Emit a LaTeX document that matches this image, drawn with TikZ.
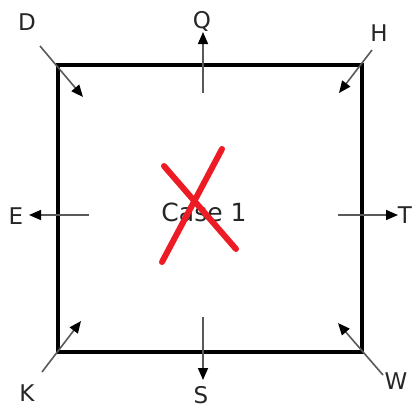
\documentclass[tikz,border=0pt]{standalone}
\usepackage{fontspec}
\setmainfont{DejaVu Sans}
\usetikzlibrary{arrows.meta}
\begin{document}
\begin{tikzpicture}[x=1pt,y=-1pt,
  lbl/.style={inner sep=0pt,font=\fontsize{23}{25}\selectfont,text=black!85},
  arr/.style={draw=black!65,line width=1.6pt,-{Triangle[length=12pt,width=10pt,color=black]}},
  frame/.style={draw=black,line width=4pt},
  cross/.style={draw={rgb,255:red,237;green,28;blue,36},line width=6pt,line cap=round}]
\useasboundingbox (0,0) rectangle (413,408);
\node[frame,minimum width=304pt,minimum height=287pt,inner sep=0pt] (sq) at (210,208.5) {};
\node[font=\fontsize{25}{28}\selectfont,text=black!85,inner sep=0pt] (case) at (204,212) {Case 1};
% red cross
\coordinate (x1a) at (162,262); \coordinate (x1b) at (222,149);
\coordinate (x2a) at (164,166); \coordinate (x2b) at (236,249);
\draw[cross] (x1a) -- (x1b);
\draw[cross] (x2a) -- (x2b);
% labels
\node[lbl] (D) at (27,22) {D};
\node[lbl] (H) at (379,33) {H};
\node[lbl] (K) at (27,393) {K};
\node[lbl] (W) at (396,381) {W};
\node[lbl] (E) at (16,216) {E};
\node[lbl] (T) at (405,215) {T};
\node[lbl] (Q) at (202,21) {Q};
\node[lbl] (S) at (201,395) {S};
% arrow coordinates
\coordinate (d0) at (40,46);  \coordinate (d1) at (83,97);
\coordinate (h0) at (372,50); \coordinate (h1) at (339,93);
\coordinate (k0) at (42,372); \coordinate (k1) at (81,321);
\coordinate (w0) at (383,375); \coordinate (w1) at (338,323);
\coordinate (e0) at (89,215); \coordinate (e1) at (29,215);
\coordinate (t0) at (338,215); \coordinate (t1) at (398,215);
\coordinate (q0) at (203,93); \coordinate (q1) at (203,32);
\coordinate (s0) at (203,317); \coordinate (s1) at (203,380);
\draw[arr] (d0) -- (d1);
\draw[arr] (h0) -- (h1);
\draw[arr] (k0) -- (k1);
\draw[arr] (w0) -- (w1);
\draw[arr] (e0) -- (e1);
\draw[arr] (t0) -- (t1);
\draw[arr] (q0) -- (q1);
\draw[arr] (s0) -- (s1);
\end{tikzpicture}
\end{document}
